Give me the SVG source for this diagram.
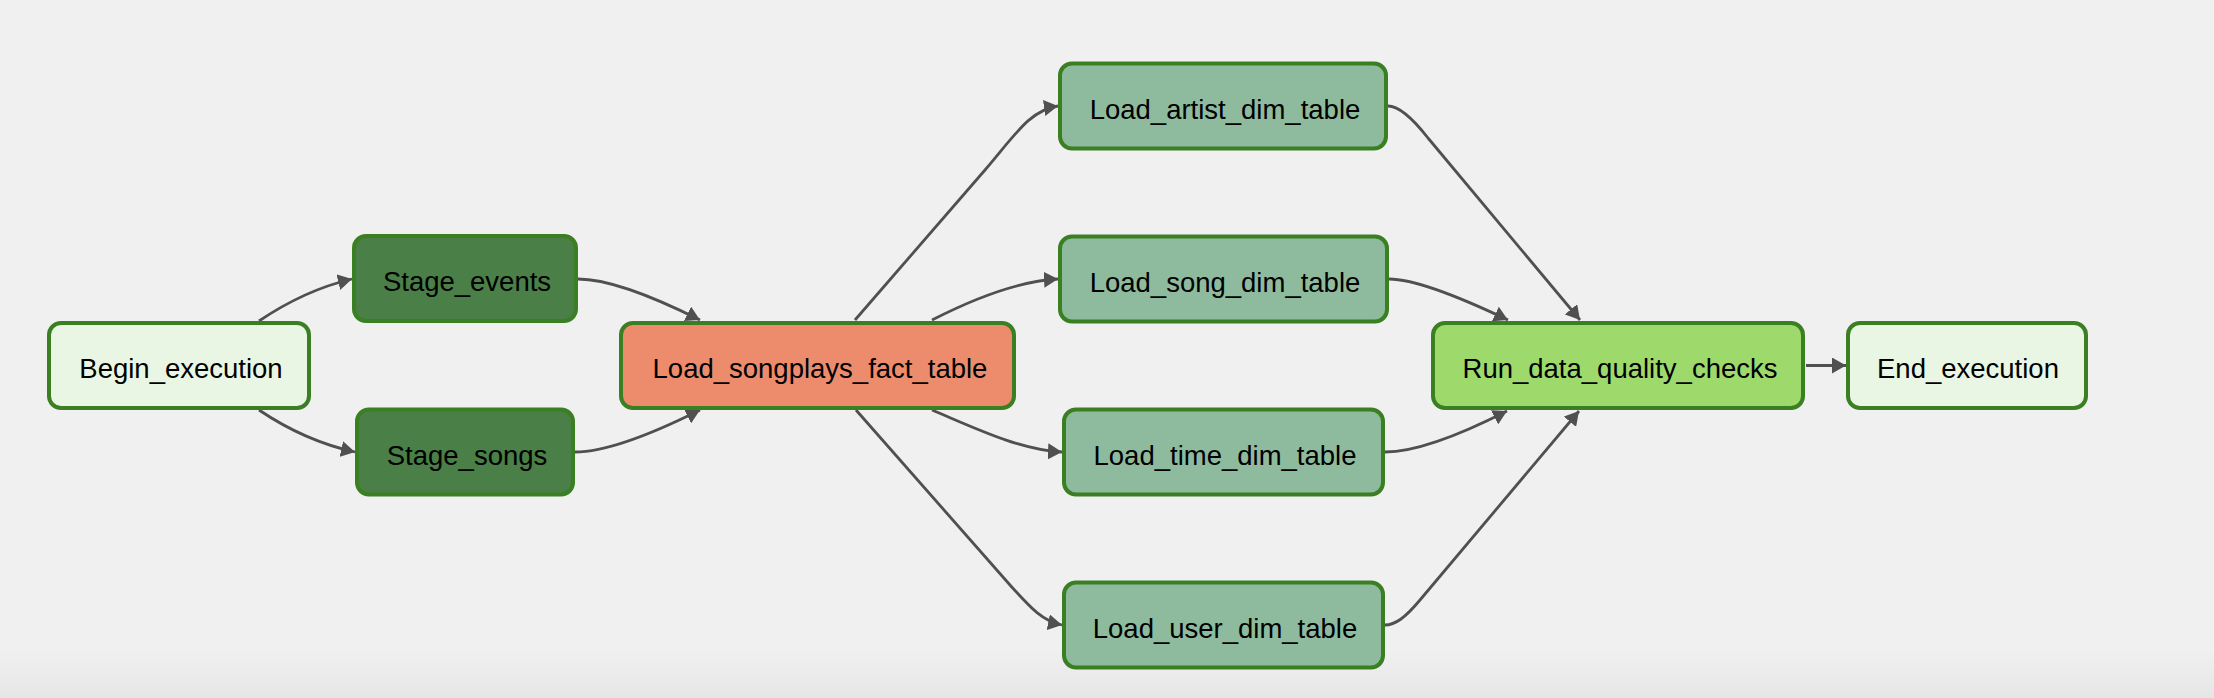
<svg xmlns="http://www.w3.org/2000/svg" width="2214" height="698" viewBox="0 0 2214 698">
<defs>
<linearGradient id="bg" x1="0" y1="0" x2="0" y2="1">
<stop offset="0" stop-color="#f0f0f0"/>
<stop offset="1" stop-color="#e6e6e6"/>
</linearGradient>
<marker id="arr" markerUnits="userSpaceOnUse" markerWidth="14" markerHeight="16" refX="14" refY="8" orient="auto">
<path d="M0,0 L14,8 L0,16 z" fill="#505050"/>
</marker>
<style>
.node rect{stroke:#3b7f23;stroke-width:4}
.node text{font-family:"Liberation Sans",Arial,sans-serif;font-size:27.5px;fill:#000;text-anchor:middle}
.dummy rect{fill:#e9f6e4}
.stage rect{fill:#4a7f47}
.fact rect{fill:#ec8c6d}
.dim rect{fill:#8ebb9e}
.dq rect{fill:#9dd96b}
#edges path{fill:none;stroke:#505050;stroke-width:2.8;marker-end:url(#arr)}
</style>
</defs>
<rect x="0" y="0" width="2214" height="698" fill="#f0f0f0"/>
<rect x="0" y="650" width="2214" height="48" fill="url(#bg)"/>
<g id="edges">
<path d="M259,321 Q305,290 352,279"/>
<path d="M259,410 Q305,441 355,452"/>
<path d="M578,279 C600,279 640,290 700,320"/>
<path d="M575,452 C600,452 640,440 700,410"/>
<path d="M855,320 L985,170 C1015,135 1030,110 1058,106"/>
<path d="M932,320 C975,298 1020,281 1058,279"/>
<path d="M932,410 C975,428 1020,450 1062,452"/>
<path d="M856,410 L1010,585 C1030,607 1042,621 1062,625"/>
<path d="M1388,106 C1398,106 1410,115 1428,138 L1580,320"/>
<path d="M1389,279 C1410,279 1445,290 1508,320"/>
<path d="M1385,452 C1410,452 1450,440 1507,411"/>
<path d="M1385,625 C1395,625 1405,618 1420,600 L1579,411"/>
<path d="M1806,365.5 L1846,365.5"/>
</g>
<g id="Begin_execution" class="node dummy">
<rect x="49" y="323" width="260" height="85" rx="12"/>
<text x="181" y="378">Begin_execution</text>
</g>
<g id="Stage_events" class="node stage">
<rect x="354" y="236" width="222" height="85" rx="12"/>
<text x="467" y="291">Stage_events</text>
</g>
<g id="Stage_songs" class="node stage">
<rect x="357" y="409.5" width="216" height="85" rx="12"/>
<text x="467" y="464.5">Stage_songs</text>
</g>
<g id="Load_songplays_fact_table" class="node fact">
<rect x="621" y="323" width="393" height="85" rx="12"/>
<text x="820" y="378">Load_songplays_fact_table</text>
</g>
<g id="Load_artist_dim_table" class="node dim">
<rect x="1060" y="63.5" width="326" height="85" rx="12"/>
<text x="1225" y="118.5">Load_artist_dim_table</text>
</g>
<g id="Load_song_dim_table" class="node dim">
<rect x="1060" y="236.5" width="327" height="85" rx="12"/>
<text x="1225" y="291.5">Load_song_dim_table</text>
</g>
<g id="Load_time_dim_table" class="node dim">
<rect x="1064" y="409.5" width="319" height="85" rx="12"/>
<text x="1225" y="464.5">Load_time_dim_table</text>
</g>
<g id="Load_user_dim_table" class="node dim">
<rect x="1064" y="582.5" width="319" height="85" rx="12"/>
<text x="1225" y="637.5">Load_user_dim_table</text>
</g>
<g id="Run_data_quality_checks" class="node dq">
<rect x="1433" y="323" width="370" height="85" rx="12"/>
<text x="1620" y="378">Run_data_quality_checks</text>
</g>
<g id="End_execution" class="node dummy">
<rect x="1848" y="323" width="238" height="85" rx="12"/>
<text x="1968" y="378">End_execution</text>
</g>
</svg>
